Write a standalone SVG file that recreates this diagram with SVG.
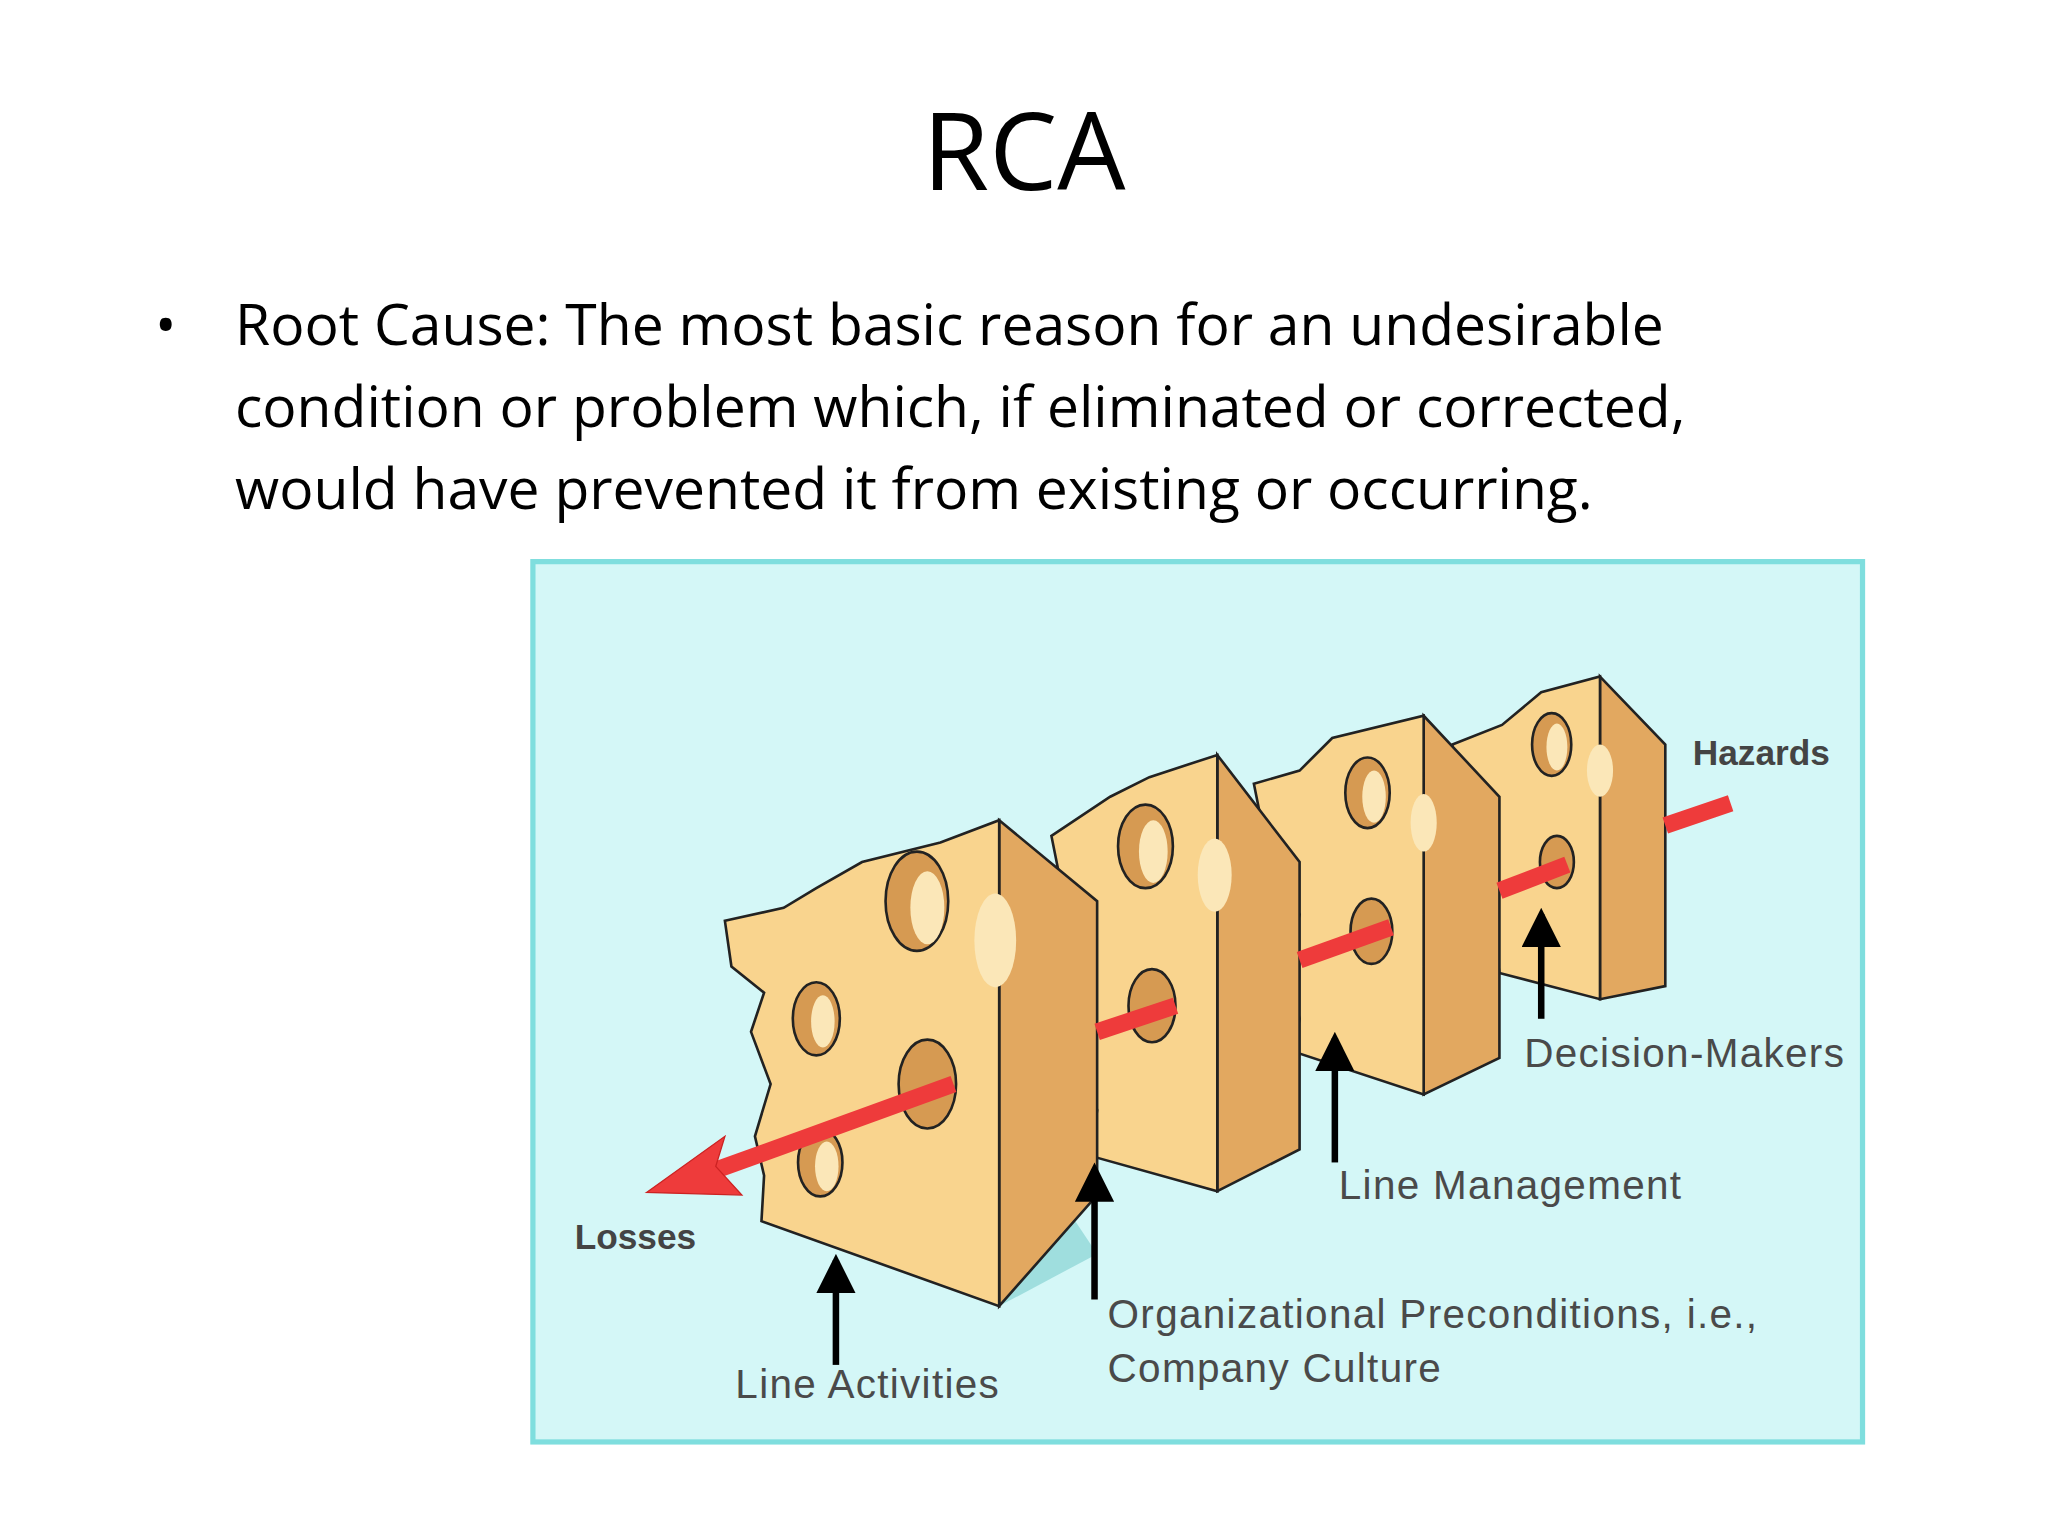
<svg xmlns="http://www.w3.org/2000/svg" width="2048" height="1536" viewBox="0 0 2048 1536">
<defs>
<style>
.front{fill:#f9d48e;stroke:#222;stroke-width:2}
.side{fill:#e2a860;stroke:#222;stroke-width:2}
.hole{fill:#d69a52;stroke:#222;stroke-width:2}
.holein{fill:#fbe7b8;stroke:none}
.red{stroke:#ee3b3b;stroke-width:13;fill:none}
.lbl{font-family:"Liberation Sans",Arial,sans-serif;font-size:31px;fill:#4a4a4a;letter-spacing:1px}
.blbl{font-family:"Liberation Sans",Arial,sans-serif;font-size:27px;font-weight:bold;fill:#444}
.ptr{stroke:#000;stroke-width:5;fill:none}
.shadow{fill:#9fdede}
</style>
<marker id="ah" markerWidth="6" markerHeight="6" refX="5" refY="3" orient="auto" markerUnits="strokeWidth"><path d="M0,0 L6,3 L0,6 Z" fill="#000"/></marker>
</defs>
<rect width="2048" height="1536" fill="#fff"/>
<text x="1024" y="190" text-anchor="middle" font-family="'Open Sans','Liberation Sans',sans-serif" font-size="108" fill="#000">RCA</text>
<g font-family="'Open Sans','Liberation Sans',sans-serif" font-size="57" fill="#000">
<text x="155" y="345">•</text>
<text x="235" y="345">Root Cause: The most basic reason for an undesirable</text>
<text x="235" y="427">condition or problem which, if eliminated or corrected,</text>
<text x="235" y="509">would have prevented it from existing or occurring.</text>
</g>
<g transform="scale(1.30612)">
<rect x="408" y="430" width="1018" height="674" fill="#d4f7f7" stroke="#7fdede" stroke-width="4"/>
<g id="shadows">
<polygon class="shadow" points="583,935 765,1000 840,960 820,930 700,905"/>
<polygon class="shadow" points="835,880 932,912 990,880 900,860"/>
<polygon class="shadow" points="985,800 1090,838 1148,805 1060,790"/>
<polygon class="shadow" points="1140,740 1225,765 1275,745 1200,735"/>
</g>
<g id="cheese4">
<polygon class="side" points="1225,518 1275,570 1275,755 1225,765"/>
<polygon class="front" points="1112,570 1150,555 1180,530 1225,518 1225,765 1148,745 1142,700 1120,660"/>
<ellipse class="hole" cx="1188" cy="570" rx="15" ry="24"/><ellipse class="holein" cx="1192" cy="572" rx="8" ry="18"/>
<ellipse class="hole" cx="1192" cy="660" rx="13" ry="20"/>
<ellipse class="holein" cx="1225" cy="590" rx="10" ry="20"/>
</g>
<g id="cheese3">
<polygon class="side" points="1090,548 1148,610 1148,810 1090,838"/>
<polygon class="front" points="960,600 995,590 1020,565 1090,548 1090,838 990,805 995,780 985,740 995,700 970,650"/>
<ellipse class="hole" cx="1047" cy="607" rx="17" ry="27"/><ellipse class="holein" cx="1052" cy="610" rx="9" ry="20"/>
<ellipse class="hole" cx="1050" cy="713" rx="16" ry="25"/>
<ellipse class="holein" cx="1090" cy="630" rx="10" ry="22"/>
</g>
<g id="cheese2">
<polygon class="side" points="932,578 995,660 995,880 932,912"/>
<polygon class="front" points="805,640 850,610 880,595 932,578 932,912 835,885 840,850 825,800 835,730 815,690"/>
<ellipse class="hole" cx="877" cy="648" rx="21" ry="32"/><ellipse class="holein" cx="883" cy="652" rx="11" ry="24"/>
<ellipse class="hole" cx="882" cy="770" rx="18" ry="28"/>
<ellipse class="holein" cx="930" cy="670" rx="13" ry="28"/>
</g>
<g id="cheese1">
<polygon class="side" points="765,628 840,690 840,915 765,1000"/>
<polygon class="front" points="555,705 600,695 625,680 660,660 720,645 765,628 765,1000 583,935 585,900 578,870 590,830 575,790 585,760 560,740"/>
<ellipse class="hole" cx="702" cy="690" rx="24" ry="38"/><ellipse class="holein" cx="710" cy="695" rx="13" ry="28"/>
<ellipse class="hole" cx="625" cy="780" rx="18" ry="28"/><ellipse class="holein" cx="630" cy="782" rx="9" ry="20"/>
<ellipse class="hole" cx="710" cy="830" rx="22" ry="34"/>
<ellipse class="hole" cx="628" cy="890" rx="17" ry="26"/><ellipse class="holein" cx="633" cy="893" rx="9" ry="19"/>
<ellipse class="holein" cx="762" cy="720" rx="16" ry="36"/>
</g>
<g id="connectors">
<line class="red" x1="1275" y1="632" x2="1325" y2="615"/>
<line class="red" x1="1148" y1="682" x2="1200" y2="662"/>
<line class="red" x1="995" y1="735" x2="1065" y2="710"/>
<line class="red" x1="840" y1="790" x2="900" y2="770"/>
<line class="red" x1="545" y1="897" x2="730" y2="830"/>
<polygon points="495,913 555,870 548,893 568,915" fill="#ee3b3b" stroke="#c22" stroke-width="1"/>
<line class="ptr" x1="640" y1="1045" x2="640" y2="965" marker-end="url(#ah)"/>
<line class="ptr" x1="838" y1="995" x2="838" y2="895" marker-end="url(#ah)"/>
<line class="ptr" x1="1022" y1="890" x2="1022" y2="795" marker-end="url(#ah)"/>
<line class="ptr" x1="1180" y1="780" x2="1180" y2="700" marker-end="url(#ah)"/>
</g>
<g id="labels">
<text class="blbl" x="1296" y="586">Hazards</text>
<text class="blbl" x="440" y="956">Losses</text>
<text class="lbl" x="1167" y="817">Decision-Makers</text>
<text class="lbl" x="1025" y="918">Line Management</text>
<text class="lbl" x="848" y="1017">Organizational  Preconditions, i.e.,</text>
<text class="lbl" x="848" y="1058">Company Culture</text>
<text class="lbl" x="563" y="1070">Line Activities</text>
</g>
</g>
</svg>
